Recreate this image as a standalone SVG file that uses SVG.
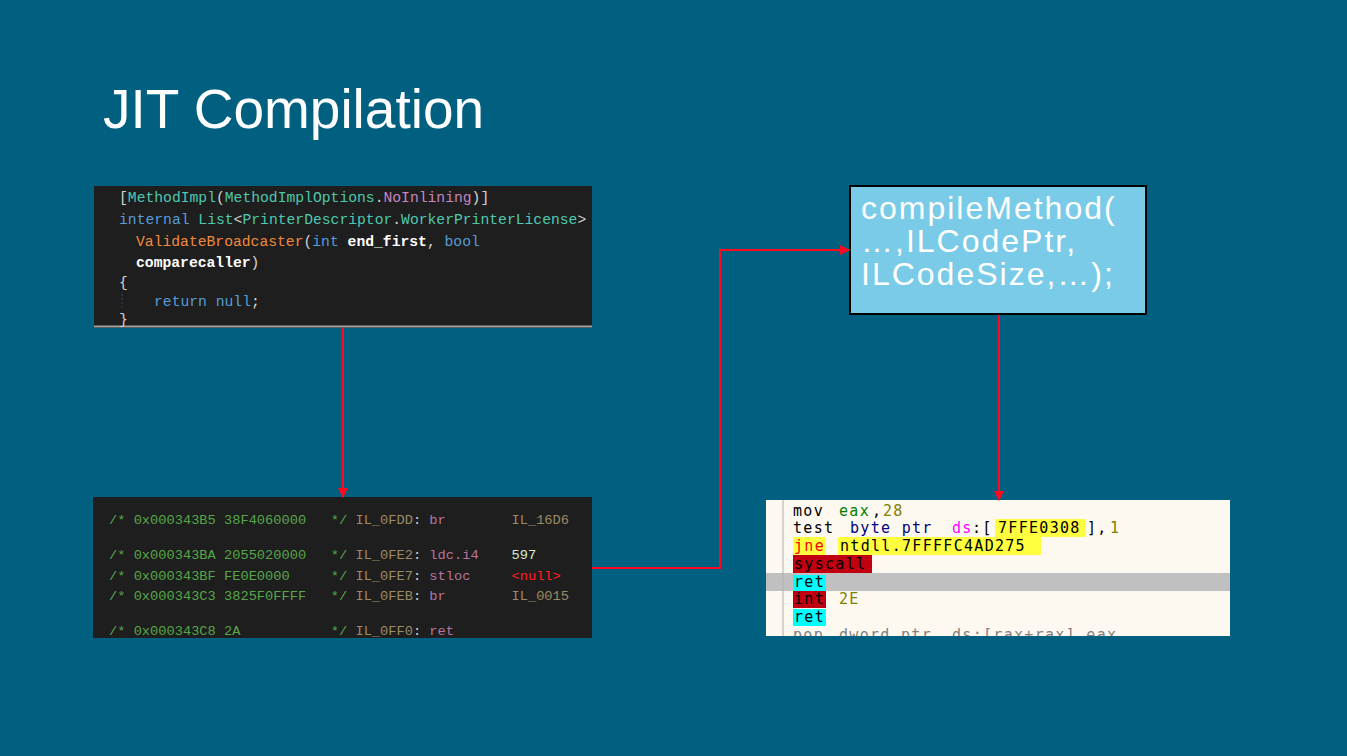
<svg xmlns="http://www.w3.org/2000/svg" width="1347" height="756" viewBox="0 0 1347 756">
<style>
.c1{font-family:"Liberation Mono","DejaVu Sans Mono",monospace;font-size:14.7px;fill:#d4d4d4}
.c2{font-family:"Liberation Mono","DejaVu Sans Mono",monospace;font-size:13.7px;fill:#d4d4d4}
.d{font-family:"DejaVu Sans Mono","Liberation Mono",monospace;font-size:15px;letter-spacing:1.3px;fill:#000000}
.ty{fill:#4ec9b0}.kw{fill:#569cd6}.pu{fill:#c586c0}.fn{fill:#f08a3c}.bw{fill:#ffffff;font-weight:bold}
.cm{fill:#57a64a}.il{fill:#9c8a66}.op{fill:#b8749e}.nm{fill:#d8ecd0}.nl{fill:#ff2020}
.gr{fill:#008000}.ol{fill:#808000}.nv{fill:#000080}.mg{fill:#ff00ff}.rd{fill:#ff0000}
.arrow{fill:none;stroke:#ff0a1e;stroke-width:2}
.cmt{font-family:"Liberation Sans",Arial,sans-serif;font-size:32px;fill:#ffffff;letter-spacing:2px}
</style>
<defs>
<marker id="ah" markerWidth="10" markerHeight="10" refX="9" refY="5" orient="auto" markerUnits="userSpaceOnUse">
<path d="M0,0 L10,5 L0,10 z" fill="#ff0a1e"/>
</marker>
<clipPath id="dclip"><rect x="766" y="500" width="464" height="136"/></clipPath>
</defs>
<rect width="1347" height="756" fill="#015f80"/>
<g id="title">
<text x="103" y="128" font-family="Liberation Sans, Arial, sans-serif" font-size="55" fill="#ffffff">JIT Compilation</text>
</g>
<g id="source-code">
<rect x="94" y="186" width="498" height="142" fill="#1e1e1e"/>
<rect x="94" y="325.5" width="498" height="2" fill="#a0a0a0"/>
<line x1="122" y1="294" x2="122" y2="310" stroke="#2c4a6a" stroke-width="1" stroke-dasharray="2,2"/>
<text class="c1" xml:space="preserve"><tspan x="119" y="202">[<tspan class="ty">MethodImpl</tspan>(<tspan class="ty">MethodImplOptions</tspan>.<tspan class="pu">NoInlining</tspan>)]</tspan><tspan x="119" y="224"><tspan class="kw">internal</tspan> <tspan class="ty">List</tspan>&lt;<tspan class="ty">PrinterDescriptor</tspan>.<tspan class="ty">WorkerPrinterLicense</tspan>&gt;</tspan><tspan x="136" y="246"><tspan class="fn">ValidateBroadcaster</tspan>(<tspan class="kw">int</tspan> <tspan class="bw">end_first</tspan>, <tspan class="kw">bool</tspan></tspan><tspan x="136" y="267"><tspan class="bw">comparecaller</tspan>)</tspan><tspan x="119" y="287">{</tspan><tspan x="154" y="306"><tspan class="kw">return</tspan> <tspan class="kw">null</tspan>;</tspan><tspan x="119" y="324">}</tspan></text>
</g>
<g id="il-code">
<rect x="93" y="497" width="499" height="141" fill="#1e1e1e"/>
<text class="c2" xml:space="preserve"><tspan x="109" y="524"><tspan class="cm">/* 0x000343B5 38F4060000   */</tspan> <tspan class="il">IL_0FDD</tspan>: <tspan class="op">br</tspan>        <tspan class="il">IL_16D6</tspan></tspan><tspan x="109" y="559"><tspan class="cm">/* 0x000343BA 2055020000   */</tspan> <tspan class="il">IL_0FE2</tspan>: <tspan class="op">ldc.i4</tspan>    <tspan class="nm">597</tspan></tspan><tspan x="109" y="580"><tspan class="cm">/* 0x000343BF FE0E0000     */</tspan> <tspan class="il">IL_0FE7</tspan>: <tspan class="op">stloc</tspan>     <tspan class="nl">&lt;null&gt;</tspan></tspan><tspan x="109" y="600"><tspan class="cm">/* 0x000343C3 3825F0FFFF   */</tspan> <tspan class="il">IL_0FEB</tspan>: <tspan class="op">br</tspan>        <tspan class="il">IL_0015</tspan></tspan><tspan x="109" y="635"><tspan class="cm">/* 0x000343C8 2A           */</tspan> <tspan class="il">IL_0FF0</tspan>: <tspan class="op">ret</tspan></tspan></text>
</g>
<g id="compile-method">
<rect x="850" y="186" width="296" height="128" fill="#7acbe8" stroke="#000000" stroke-width="2"/>
<text class="cmt" x="861" y="219">compileMethod(</text>
<text class="cmt" x="861" y="252">…,ILCodePtr,</text>
<text class="cmt" x="861" y="285">ILCodeSize,…);</text>
</g>
<g id="native-code">
<rect x="766" y="500" width="464" height="136" fill="#fdf8f0"/>
<g clip-path="url(#dclip)">
<rect x="766" y="573" width="464" height="18" fill="#c0c0c0"/>
<line x1="783" y1="500" x2="783" y2="636" stroke="#b0b0b0" stroke-width="1"/>
<rect x="995" y="519" width="91" height="18" fill="#ffff40"/>
<rect x="793" y="537" width="33" height="18" fill="#ffff40"/>
<rect x="838" y="537" width="203" height="18" fill="#ffff40"/>
<rect x="793" y="555" width="79" height="18" fill="#c00010"/>
<rect x="793" y="575" width="33" height="16" fill="#00ffff"/>
<rect x="793" y="591" width="33" height="17" fill="#c00010"/>
<rect x="793" y="609" width="33" height="17" fill="#00ffff"/>
<text class="d" xml:space="preserve"><tspan x="793" y="516">mov</tspan><tspan x="839" y="516" class="gr">eax</tspan><tspan x="872" y="516">,</tspan><tspan x="883" y="516" class="ol">28</tspan><tspan x="793" y="533">test</tspan><tspan x="850" y="533" class="nv">byte ptr</tspan><tspan x="952" y="533" class="mg">ds</tspan><tspan x="972" y="533">:[</tspan><tspan x="998" y="533">7FFE0308</tspan><tspan x="1087" y="533">],</tspan><tspan x="1110" y="533" class="ol">1</tspan><tspan x="794" y="551" class="rd">jne</tspan><tspan x="840" y="551">ntdll.7FFFFC4AD275</tspan><tspan x="794" y="569">syscall</tspan><tspan x="794" y="587">ret</tspan><tspan x="794" y="604">int</tspan><tspan x="839" y="604" class="ol">2E</tspan><tspan x="794" y="622">ret</tspan></text>
<text class="d" xml:space="preserve" style="fill:#808080"><tspan x="793" y="640">pop</tspan><tspan x="839" y="640">dword ptr</tspan><tspan x="952" y="640">ds:[rax+rax],eax</tspan></text>
</g>
</g>
<g id="connectors">
<path class="arrow" d="M343,328 L343,497" stroke-width="1.5" marker-end="url(#ah)"/>
<path class="arrow" d="M592,568 L720,568 L720,250 L849,250" marker-end="url(#ah)"/>
<path class="arrow" d="M999,315 L999,500" marker-end="url(#ah)"/>
</g>
</svg>
